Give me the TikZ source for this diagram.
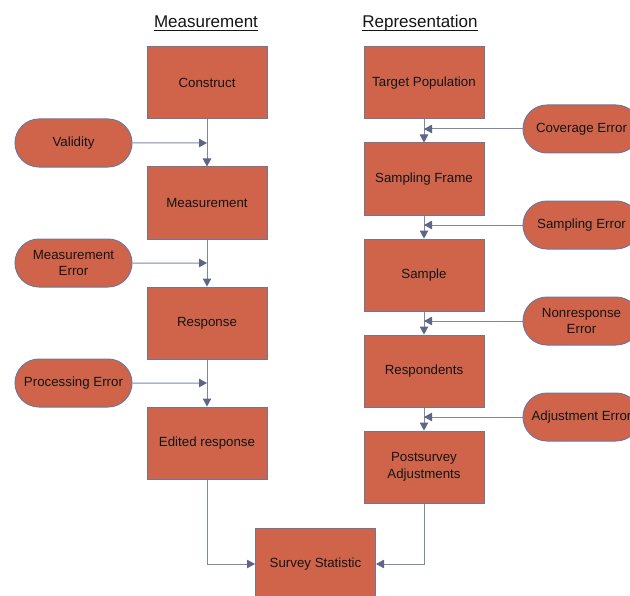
\documentclass[tikz,border=0pt]{standalone}
\usepackage{fontspec}
\setmainfont{Liberation Sans}
\usetikzlibrary{shapes.misc,arrows.meta}

\definecolor{boxfill}{RGB}{208,100,74}
\definecolor{boxline}{RGB}{112,119,150}
\definecolor{linkline}{RGB}{128,135,165}
\definecolor{tipfill}{RGB}{94,102,135}
\definecolor{ink}{RGB}{20,20,20}

% column heading with a flat underline below the baseline
\newsavebox\hdrbox
\newcommand\hdr[1]{\sbox\hdrbox{#1}\usebox\hdrbox\llap{\rule[-3.2bp]{\wd\hdrbox}{0.9bp}}}

\tikzset{
  stagebox/.style={rectangle, draw=boxline, fill=boxfill, line width=1bp,
    minimum width=120bp, minimum height=72bp, inner sep=2bp, align=center,
    text=ink, font=\fontsize{13.3bp}{16.7bp}\selectfont},
  errpill/.style={rounded rectangle, draw=boxline, fill=boxfill, line width=1bp,
    minimum width=121bp, minimum height=48bp, inner sep=2bp, align=center,
    text=ink, font=\fontsize{13.3bp}{16.7bp}\selectfont},
  heading/.style={anchor=base, inner sep=0pt, text=ink,
    font=\fontsize{17bp}{20bp}\selectfont},
  conn/.style={draw=linkline, line width=1bp,
    -{Triangle[length=8bp,width=8.5bp,fill=tipfill,color=tipfill]}},
  plain/.style={draw=linkline, line width=1bp}
}

\begin{document}
\begin{tikzpicture}[x=1bp,y=-1bp]
  \useasboundingbox (0,0) rectangle (630,596);
  \clip (0,0) rectangle (630,596);

  % headings
  \node[heading] (hmeas) at (206,28) {\hdr{Measurement}};
  \node[heading] (hrep)  at (420,28) {\hdr{Representation}};

  % measurement side
  \node[stagebox] (construct) at (207,83)  {Construct};
  \node[stagebox] (measure)   at (207,203) {Measurement};
  \node[stagebox] (response)  at (207,323) {Response};
  \node[stagebox] (edited)    at (207,443) {Edited response};

  \node[errpill] (validity) at (73.5,143) {Validity};
  \node[errpill] (measerr)  at (73.5,263) {Measurement\\Error};
  \node[errpill] (procerr)  at (73.5,383) {Processing Error};

  % representation side
  \node[stagebox] (target)  at (424,83)  {Target Population};
  \node[stagebox] (frame)   at (424,179) {Sampling Frame};
  \node[stagebox] (sample)  at (424,275) {Sample};
  \node[stagebox] (resp)    at (424,371) {Respondents};
  \node[stagebox] (post)    at (424,467) {Postsurvey\\Adjustments};

  \node[errpill] (coverr)  at (581.5,129) {Coverage Error};
  \node[errpill] (samperr) at (581.5,225) {Sampling Error};
  \node[errpill] (nonresp) at (581.5,321) {Nonresponse\\Error};
  \node[errpill] (adjerr)  at (581.5,417) {Adjustment Error};

  % final estimate
  \node[stagebox] (stat) at (315.5,564) {Survey Statistic};

  % measurement chain
  \draw[conn] (construct) -- (measure);
  \draw[conn] (measure) -- (response);
  \draw[conn] (response) -- (edited);
  \draw[conn] (validity) -- (validity -| construct);
  \draw[conn] (measerr) -- (measerr -| measure);
  \draw[conn] (procerr) -- (procerr -| response);

  % representation chain
  \draw[conn] (target) -- (frame);
  \draw[conn] (frame) -- (sample);
  \draw[conn] (sample) -- (resp);
  \draw[conn] (resp) -- (post);
  \draw[conn] (coverr) -- (coverr -| target);
  \draw[conn] (samperr) -- (samperr -| frame);
  \draw[conn] (nonresp) -- (nonresp -| sample);
  \draw[conn] (adjerr) -- (adjerr -| resp);

  % both chains feed the statistic
  \draw[conn] (edited.south) |- (stat.west);
  \draw[conn] (post.south) |- (stat.east);
\end{tikzpicture}
\end{document}
